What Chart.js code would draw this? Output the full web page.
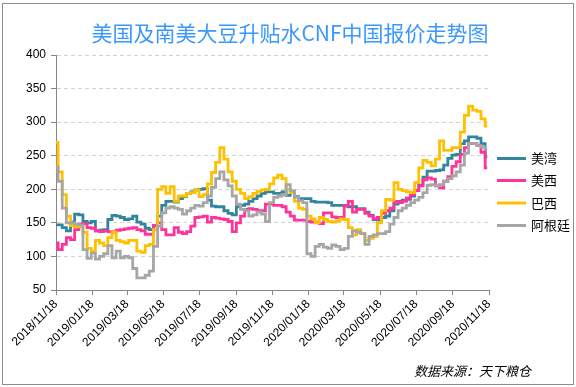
<!DOCTYPE html>
<html>
<head>
<meta charset="utf-8">
<title>美国及南美大豆升贴水CNF中国报价走势图</title>
<script src="https://cdn.jsdelivr.net/npm/chart.js"></script>
<style>
  html, body { margin: 0; padding: 0; background: #fff; }
  canvas { display: block; }
</style>
</head>
<body>
<canvas id="basisChart" width="576" height="387"></canvas>
<script>
// 图表标题、图例名称
const chartTitle = "美国及南美大豆升贴水CNF中国报价走势图";
const sourceText = "数据来源：天下粮仓";
const seriesNames = ["美湾", "美西", "巴西", "阿根廷"];

// 横轴：从 2018/11/18 起按周取点（第 i 个点 = 起始日 + 7*i 天）
const startDate = "2018/11/18";
const tickLabels = [
  "2018/11/18", "2019/01/18", "2019/03/18", "2019/05/18", "2019/07/18",
  "2019/09/18", "2019/11/18", "2020/01/18", "2020/03/18", "2020/05/18",
  "2020/07/18", "2020/09/18", "2020/11/18"
];
const yTicks = [50, 100, 150, 200, 250, 300, 350, 400];

// 各产地升贴水（美分/蒲式耳），每周一个值
const usGulf = [
  147, 147, 143, 138, 151, 163, 162, 152, 150, 152,
  138, 139, 140, 155, 161, 160, 158, 155, 156, 160,
  151, 148, 142, 140, 146, 160, 176, 182, 182, 181,
  186, 189, 194, 196, 199, 200, 201, 184, 175, 174,
  174, 168, 164, 162, 174, 176, 178, 182, 186, 190,
  194, 196, 196, 194, 194, 196, 191, 196, 189, 186,
  186, 186, 182, 181, 181, 181, 180, 176, 176, 176,
  175, 174, 174, 171, 171, 166, 161, 155, 154, 158,
  160, 168, 178, 182, 184, 185, 190, 198, 206, 218,
  227, 227, 228, 229, 236, 246, 251, 252, 268, 272,
  278, 278, 276, 268, 248
];
const usWest = [
  120, 110, 118, 128, 125, 140, 148, 149, 143, 142,
  138, 137, 138, 137, 136, 139, 140, 141, 142, 143,
  140, 138, 133, 133, 146, 150, 140, 132, 132, 143,
  136, 134, 137, 145, 158, 159, 160, 151, 158, 157,
  156, 155, 152, 137, 150, 160, 170, 171, 170, 168,
  168, 178, 178, 176, 176, 174, 166, 160, 154, 154,
  154, 152, 151, 151, 149, 165, 165, 159, 158, 158,
  176, 182, 166, 170, 170, 164, 160, 156, 158, 164,
  168, 172, 182, 180, 182, 187, 192, 198, 205, 214,
  217, 215, 205, 202, 212, 219, 234, 241, 252, 262,
  268, 268, 265, 255, 232
];
const brazil = [
  270, 226, 192, 160, 146, 144, 144, 136, 112, 108,
  124, 120, 116, 128, 136, 124, 122, 120, 124, 124,
  108, 106, 116, 118, 140, 200, 204, 194, 204, 182,
  190, 190, 194, 195, 199, 189, 192, 208, 225, 240,
  262, 245, 226, 212, 200, 194, 186, 189, 194, 197,
  199, 200, 208, 217, 221, 216, 200, 195, 182, 172,
  170, 160, 156, 150, 158, 155, 152, 151, 153, 156,
  155, 143, 132, 140, 134, 124, 127, 130, 150, 168,
  185, 184, 210, 200, 198, 196, 195, 210, 232, 243,
  240, 235, 245, 272, 258, 258, 262, 262, 285, 310,
  324, 318, 316, 305, 294
];
const argentina = [
  233, 212, 172, 150, 150, 148, 147, 110, 97, 105,
  96, 100, 104, 116, 98, 108, 98, 100, 98, 82,
  68, 68, 72, 78, 115, 145, 165, 172, 174, 172,
  170, 163, 168, 172, 176, 175, 180, 190, 203, 216,
  226, 214, 205, 190, 178, 170, 168, 160, 162, 166,
  163, 152, 180, 188, 190, 192, 207, 198, 188, 183,
  180, 104, 100, 115, 118, 114, 112, 117, 115, 110,
  112, 130, 138, 136, 134, 118, 130, 132, 134, 134,
  137, 148, 158, 168, 172, 176, 180, 184, 188, 195,
  206, 207, 205, 207, 212, 216, 220, 226, 236, 254,
  268, 268, 265, 263, 260
];

const seriesColors = ["#31859c", "#ff3399", "#ffc000", "#a6a6a6"];

// 日期 -> 距起始日的天数
function dayOffset(str) {
  const p = str.split("/").map(Number);
  const s = startDate.split("/").map(Number);
  return Math.round((Date.UTC(p[0], p[1] - 1, p[2]) - Date.UTC(s[0], s[1] - 1, s[2])) / 86400000);
}
const tickDays = tickLabels.map(dayOffset);

function toPoints(values) {
  return values.map((v, i) => ({ x: i * 7, y: v }));
}

const allSeries = [usGulf, usWest, brazil, argentina];

// 标题、图例、来源、边框
const decorPlugin = {
  id: "decor",
  beforeDraw(chart) {
    const c = chart.ctx;
    c.save();
    c.fillStyle = "#ffffff";
    c.fillRect(0, 0, chart.width, chart.height);
    c.strokeStyle = "#8c8c8c";
    c.lineWidth = 1;
    c.strokeRect(2.5, 3.5, 571, 381);

    c.fillStyle = "#3b98fb";
    c.font = '21px "Noto Sans CJK SC"';
    c.textAlign = "center";
    c.textBaseline = "middle";
    c.fillText(chartTitle, 290, 33);

    c.fillStyle = "#000";
    c.font = 'italic 13px "Noto Sans CJK SC"';
    c.textAlign = "right";
    c.textBaseline = "middle";
    c.fillText(sourceText, 531, 371);
    c.restore();
  },
  afterDraw(chart) {
    const c = chart.ctx;
    const rows = [158.5, 180.5, 203, 225.5];
    c.save();
    chart.data.datasets.forEach((ds, i) => {
      c.strokeStyle = ds.borderColor;
      c.lineWidth = 3;
      c.beginPath();
      c.moveTo(497, rows[i]);
      c.lineTo(526, rows[i]);
      c.stroke();
      c.fillStyle = "#000";
      c.font = '13px "Noto Sans CJK SC"';
      c.textAlign = "left";
      c.textBaseline = "middle";
      c.fillText(ds.label, 531, rows[i]);
    });
    c.restore();
  }
};

const ctx = document.getElementById("basisChart");
new Chart(ctx, {
  type: "line",
  data: {
    datasets: allSeries.map((vals, i) => ({
      label: seriesNames[i],
      data: toPoints(vals),
      borderColor: seriesColors[i],
      backgroundColor: seriesColors[i],
      borderWidth: 2.8,
      pointRadius: 0,
      stepped: "middle",
      fill: false,
      order: allSeries.length - i // 后面的系列画在上面
    }))
  },
  options: {
    responsive: false,
    animation: false,
    devicePixelRatio: 1,
    layout: { padding: { left: 0, top: 55, right: 87, bottom: 0 } },
    plugins: {
      legend: { display: false },
      tooltip: { enabled: false }
    },
    scales: {
      x: {
        type: "linear",
        min: 0,
        max: tickDays[tickDays.length - 1],
        afterBuildTicks: (scale) => {
          scale.ticks = tickDays.map((d) => ({ value: d }));
        },
        afterFit: (scale) => { scale.height = 97; },
        ticks: {
          autoSkip: false,
          minRotation: 45,
          maxRotation: 45,
          padding: 2,
          color: "#000",
          font: { family: '"Liberation Sans"', size: 12 },
          callback: (value) => {
            const idx = tickDays.indexOf(value);
            return idx >= 0 ? tickLabels[idx] : "";
          }
        },
        grid: { drawOnChartArea: false, drawTicks: true, tickLength: 5, tickColor: "#868686" },
        border: { color: "#868686", width: 1 }
      },
      y: {
        min: yTicks[0],
        max: yTicks[yTicks.length - 1],
        afterBuildTicks: (scale) => {
          scale.ticks = yTicks.map((v) => ({ value: v }));
        },
        afterFit: (scale) => { scale.width = 56; },
        ticks: {
          padding: 5,
          color: "#000",
          font: { family: '"Liberation Sans"', size: 12 }
        },
        grid: {
          color: (c) => (c.tick && c.tick.value === yTicks[0] ? "rgba(0,0,0,0)" : "#d4d4d4"),
          drawTicks: true,
          tickLength: 5,
          tickColor: "#868686"
        },
        border: { color: "#868686", width: 1, dash: [4, 3] }
      }
    }
  },
  plugins: [decorPlugin]
});
</script>
</body>
</html>
